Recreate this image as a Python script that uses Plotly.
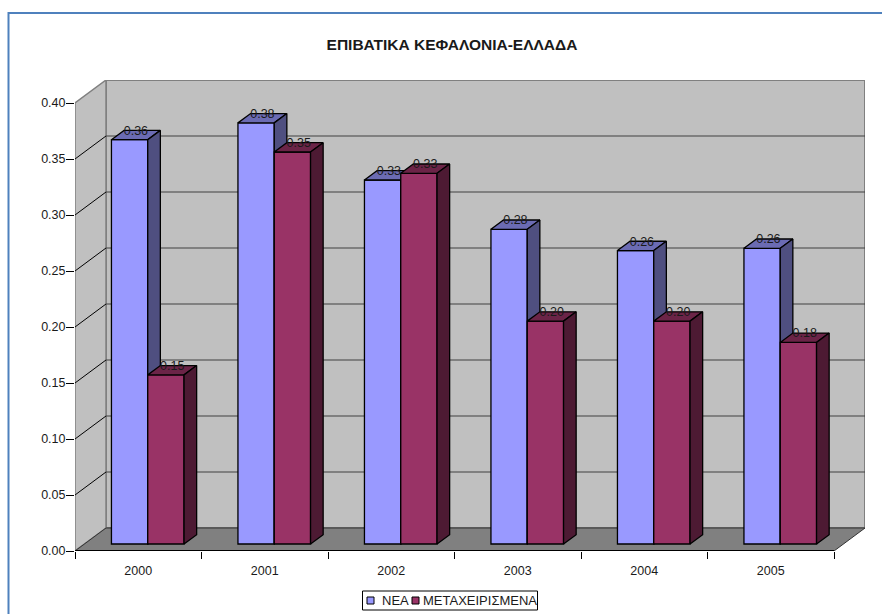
import plotly.graph_objects as go

years = ["2000", "2001", "2002", "2003", "2004", "2005"]
nea = [0.361, 0.376, 0.325, 0.281, 0.262, 0.264]
metax = [0.151, 0.350, 0.331, 0.199, 0.199, 0.180]
nea_labels = ["0.36", "0.38", "0.33", "0.28", "0.26", "0.26"]
metax_labels = ["0.15", "0.35", "0.33", "0.20", "0.20", "0.18"]
y_ticks = [0, 0.05, 0.10, 0.15, 0.20, 0.25, 0.30, 0.35, 0.40]

# pixel layout of the plot area
L, R, T, B = 75, 865, 80, 551
CAT_PX = 126.5
PX_X = 1 / CAT_PX
PX_Y = 1 / 1120
xmin = -0.5
xmax = xmin + (R - L) * PX_X
ymax = (B - T) * PX_Y
last = 5.5
DX, DY = 31 * PX_X, 23 * PX_Y          # depth of the floor
BDX, BDY = 12.6 * PX_X, 9.3 * PX_Y     # depth of a bar
FX, FY = 9.5 * PX_X, 7 * PX_Y          # floor-front to bar-front
BW = 36.3 * PX_X
FONT = "Liberation Sans, Arial, sans-serif"
COL_BLUE = ("#9999FF", "#6B6BB3", "#4F4F80")
COL_WINE = ("#993366", "#6B2447", "#4D1A33")


def px(x):
    return (x - L) / (R - L)


def py(y):
    return (B - y) / (B - T)


def series(vals, labels, name, colors, offset, xa, ya):
    xs = [i + FX + offset for i in range(len(vals))]
    bar = go.Bar(x=xs, y=vals, base=[FY] * len(vals), width=BW, name=name,
                 marker=dict(color=colors[0], line=dict(color="black", width=1.3)),
                 xaxis=xa, yaxis=ya, hoverinfo="x+y")
    tx, ty, sx, sy = [], [], [], []
    for x, v in zip(xs, vals):
        l, r, t = x - BW / 2, x + BW / 2, v + FY
        tx += [l, r, r + BDX, l + BDX, l, None]
        ty += [t, t, t + BDY, t + BDY, t, None]
        sx += [r, r + BDX, r + BDX, r, r, None]
        sy += [FY, FY + BDY, t + BDY, t, FY, None]
    line = dict(color="black", width=1.3)
    top = go.Scatter(x=tx, y=ty, mode="lines", fill="toself", fillcolor=colors[1], line=line,
                     showlegend=False, hoverinfo="skip", xaxis=xa, yaxis=ya)
    side = go.Scatter(x=sx, y=sy, mode="lines", fill="toself", fillcolor=colors[2], line=line,
                      showlegend=False, hoverinfo="skip", xaxis=xa, yaxis=ya)
    text = go.Scatter(x=[x + BDX / 2 for x in xs],
                      y=[v + FY + BDY / 2 + 3.5 * PX_Y for v in vals],
                      text=labels, mode="text", textposition="middle center",
                      textfont=dict(family=FONT, size=12.5, color="#1a1a1a"),
                      showlegend=False, hoverinfo="skip", xaxis=xa, yaxis=ya, cliponaxis=False)
    return [bar, top, side, text]


fig = go.Figure()
for t in series(nea, nea_labels, "ΝΕΑ", COL_BLUE, -BW / 2, "x", "y"):
    fig.add_trace(t)
for t in series(metax, metax_labels, "ΜΕΤΑΧΕΙΡΙΣΜΕΝΑ", COL_WINE, BW / 2, "x2", "y2"):
    fig.add_trace(t)


def poly(pts):
    return "M" + " L".join(f"{a},{b}" for a, b in pts) + " Z"


shapes = []
top_val = y_ticks[-1]
# back wall, left wall, floor
shapes.append(dict(type="path", xref="x", yref="y", layer="below", fillcolor="#C0C0C0",
                   line=dict(color="#808080", width=2),
                   path=poly([(xmin + DX, DY), (last + DX, DY), (last + DX, top_val + DY), (xmin + DX, top_val + DY)])))
shapes.append(dict(type="path", xref="x", yref="y", layer="below", fillcolor="#C0C0C0",
                   line=dict(color="#808080", width=1.5),
                   path=poly([(xmin, 0), (xmin + DX, DY), (xmin + DX, top_val + DY), (xmin, top_val)])))
for v in y_ticks[1:-1]:
    shapes.append(dict(type="line", xref="x", yref="y", layer="below", x0=xmin + DX, x1=last + DX,
                       y0=v + DY, y1=v + DY, line=dict(color="#404040", width=1.2)))
    shapes.append(dict(type="line", xref="x", yref="y", layer="below", x0=xmin, x1=xmin + DX,
                       y0=v, y1=v + DY, line=dict(color="black", width=1)))
shapes.append(dict(type="path", xref="x", yref="y", layer="below", fillcolor="#808080",
                   line=dict(color="#333333", width=1),
                   path=poly([(xmin, 0), (xmin + DX, DY), (last + DX, DY), (last, 0)])))
shapes.append(dict(type="line", xref="x", yref="y", layer="below", x0=xmin, x1=last, y0=0, y1=0,
                   line=dict(color="black", width=2)))
# outer blue frame, running off the right and bottom of the page
shapes.append(dict(type="rect", xref="paper", yref="paper", layer="below",
                   x0=px(8.5), x1=px(900), y0=py(13), y1=py(640),
                   line=dict(color="#4F81BD", width=2), fillcolor="rgba(0,0,0,0)"))
# legend box and swatches
shapes.append(dict(type="rect", xref="paper", yref="paper", x0=px(362.5), x1=px(537.5), y0=py(591), y1=py(610),
                   line=dict(color="black", width=1), fillcolor="white", layer="above"))
for x0, c in ((367, COL_BLUE[0]), (412, COL_WINE[0])):
    shapes.append(dict(type="rect", xref="paper", yref="paper", x0=px(x0), x1=px(x0 + 7), y0=py(597), y1=py(604),
                       line=dict(color="black", width=1), fillcolor=c, layer="above"))

annotations = [
    dict(text="ΝΕΑ", x=px(381), y=py(600.5), xref="paper", yref="paper", xanchor="left", yanchor="middle",
         showarrow=False, font=dict(family=FONT, size=13, color="#1a1a1a"), xshift=-1),
    dict(text="ΜΕΤΑΧΕΙΡΙΣΜΕΝΑ", x=px(422), y=py(600.5), xref="paper", yref="paper", xanchor="left", yanchor="middle",
         showarrow=False, font=dict(family=FONT, size=13, color="#1a1a1a"), xshift=-1),
]

axis_common = dict(showgrid=False, zeroline=False, showline=False)
fig.update_layout(
    width=882, height=614, autosize=False, showlegend=False,
    margin=dict(l=L, r=882 - R, t=T, b=614 - B, pad=0),
    paper_bgcolor="white", plot_bgcolor="rgba(0,0,0,0)",
    barmode="overlay", shapes=shapes, annotations=annotations,
    font=dict(family=FONT, size=12.5, color="#1a1a1a"),
    title=dict(text="<b>ΕΠΙΒΑΤΙΚΑ ΚΕΦΑΛΟΝΙΑ-ΕΛΛΑΔΑ</b>", font=dict(family=FONT, size=15.5, color="#1a1a1a"),
               x=px(452), xref="paper", xanchor="center", y=1 - 45 / 614, yref="container", yanchor="middle"),
    xaxis=dict(range=[xmin, xmax], tickmode="array", tickvals=list(range(6)), ticktext=years, ticks="",
               ticklen=0, minor=dict(tickmode="array", tickvals=[i - 0.5 for i in range(7)], ticks="outside",
                                     ticklen=7, tickwidth=1, tickcolor="black", showgrid=False),
               ticklabelstandoff=10, **axis_common),
    yaxis=dict(range=[0, ymax], tickmode="array", tickvals=y_ticks, tickformat=".2f", ticks="outside",
               ticklen=8, tickwidth=1, tickcolor="black", ticklabelstandoff=-2, **axis_common),
    xaxis2=dict(range=[xmin, xmax], overlaying="x", anchor="y2", visible=False),
    yaxis2=dict(range=[0, ymax], overlaying="y", anchor="x2", visible=False),
)

fig.write_html("out.html", config=dict(displayModeBar=False),
               post_script="document.body.style.margin='0';")
